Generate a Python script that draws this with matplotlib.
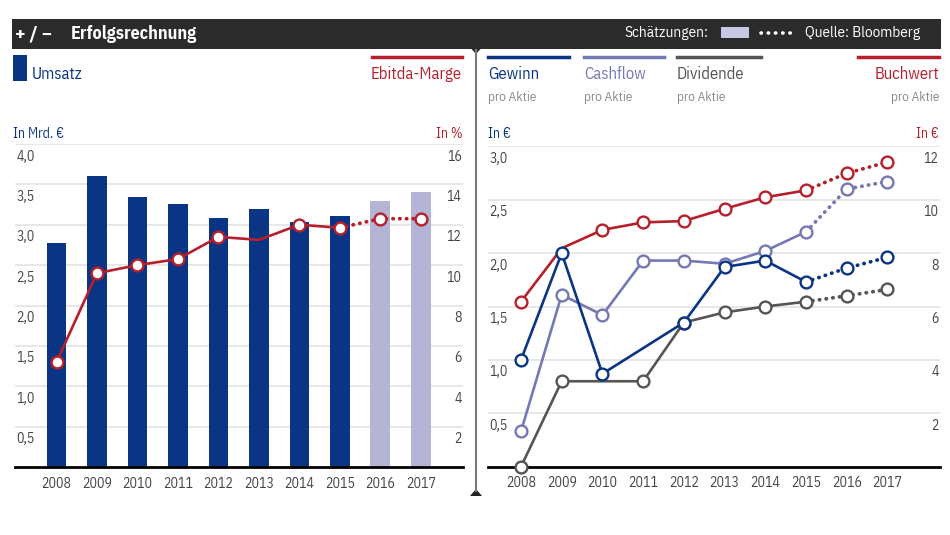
import numpy as np
import matplotlib
matplotlib.use("Agg")
import matplotlib.pyplot as plt
from matplotlib.patches import Rectangle, Polygon
from matplotlib.lines import Line2D

plt.rcParams['font.family'] = ['IBM Plex Sans Condensed', 'DejaVu Sans']

# --- data -------------------------------------------------------------
years = [2008, 2009, 2010, 2011, 2012, 2013, 2014, 2015, 2016, 2017]
umsatz = [2.77, 3.60, 3.34, 3.26, 3.08, 3.19, 3.04, 3.11, 3.30, 3.41]      # Mrd. EUR
ebitda_marge = [5.2, 9.6, 10.0, 10.3, 11.4, 11.25, 12.0, 11.85, 12.3, 12.3]  # %
estimate_from = 2016

gewinn_years = [2008, 2009, 2010, 2012, 2013, 2014, 2015, 2016, 2017]
gewinn = [1.00, 2.00, 0.87, 1.35, 1.87, 1.93, 1.73, 1.86, 1.96]
cashflow_years = years
cashflow = [0.33, 1.61, 1.42, 1.93, 1.93, 1.90, 2.02, 2.20, 2.60, 2.67]
dividende_years = [2008, 2009, 2011, 2012, 2013, 2014, 2015, 2016, 2017]
dividende = [0.0, 0.80, 0.80, 1.35, 1.445, 1.50, 1.545, 1.60, 1.66]
buchwert_years = years
buchwert = [6.18, 8.18, 8.87, 9.15, 9.20, 9.66, 10.09, 10.35, 10.99, 11.41]

left_ticks = [0.5, 1.0, 1.5, 2.0, 2.5, 3.0, 3.5, 4.0]
left_ticks_r = [2, 4, 6, 8, 10, 12, 14, 16]
right_ticks = [0.5, 1.0, 1.5, 2.0, 2.5, 3.0]
right_ticks_r = [2, 4, 6, 8, 10, 12]

NAVY = "#0a3584"
LAV = "#b4b4d4"
RED = "#b5202b"
CASH = "#7479b4"
GREY = "#555555"
TXT = "#444444"
GRID = "#e3e3e6"

W, H = 950, 535
fig = plt.figure(figsize=(W / 100, H / 100), dpi=100)


def rect(l, t, r, b):
    return [l / W, 1 - b / H, (r - l) / W, (b - t) / H]


def fx(x):
    return x / W


def fy(y):
    return 1 - y / H


def fmt(v):
    return f"{v:.1f}".replace(".", ",")


def series(ax, xs, ys, color, no_marker=(), z=3):
    xs = np.array(xs)
    ys = np.array(ys)
    solid = xs < estimate_from
    dotted = xs >= estimate_from - 1
    ax.plot(xs[solid], ys[solid], color=color, lw=1.9, zorder=z,
            solid_capstyle="round", solid_joinstyle="round")
    ax.plot(xs[dotted], ys[dotted], color=color, lw=2.7, zorder=z,
            linestyle=(0, (0.1, 1.7)), dash_capstyle="round")
    mask = np.array([x not in no_marker for x in xs])
    ax.plot(xs[mask], ys[mask], ls="none", marker="o", ms=8.5, mfc="white",
            mec=color, mew=1.7, zorder=z + 0.5, clip_on=False)


def label_ticks(ax, ticks, side, color=TXT):
    for v in ticks:
        if side == "left":
            ax.annotate(fmt(v), xy=(0, v), xycoords=ax.get_yaxis_transform(),
                        xytext=(1, -4), textcoords="offset points",
                        ha="left", va="top", fontsize=10, color=color)
        else:
            ax.annotate(str(v), xy=(1, v), xycoords=ax.get_yaxis_transform(),
                        xytext=(-1, -4), textcoords="offset points",
                        ha="right", va="top", fontsize=10, color=color)


def style(ax, xlim, ylim):
    ax.set_xlim(*xlim)
    ax.set_ylim(*ylim)
    for s in ax.spines.values():
        s.set_visible(False)
    ax.set_yticks([])
    ax.set_xticks(years)
    ax.set_xticklabels([str(y) for y in years], fontsize=10, color=TXT)
    ax.tick_params(axis="x", length=0, pad=7)
    ax.axhline(0, color="black", lw=2, zorder=2.5, clip_on=False)


# --- left panel: Umsatz / Ebitda-Marge --------------------------------
axl = fig.add_axes(rect(15, 144, 463, 467))
style(axl, (2006.975, 2018.04), (0, 4))
for v in left_ticks:
    axl.axhline(v, color=GRID, lw=1.2, zorder=0)
bar_colors = [NAVY if y < estimate_from else LAV for y in years]
axl.bar(years, umsatz, width=0.49, color=bar_colors, zorder=1)
label_ticks(axl, left_ticks, "left")

axl2 = axl.twinx()
axl2.set_ylim(0, 16)
axl2.set_yticks([])
for s in axl2.spines.values():
    s.set_visible(False)
series(axl2, years, ebitda_marge, RED, no_marker=(2013,))
label_ticks(axl2, left_ticks_r, "right")

# --- right panel: per-share figures -----------------------------------
axr2 = fig.add_axes(rect(488, 146.3, 940, 466.7))
axr2.set_xlim(2007.19, 2018.29)
axr2.set_ylim(0, 12)
axr2.set_yticks([])
axr2.set_xticks([])
for s in axr2.spines.values():
    s.set_visible(False)
for v in right_ticks_r:
    axr2.axhline(v, color=GRID, lw=1.2, zorder=0)
series(axr2, buchwert_years, buchwert, RED, no_marker=(2009,))
label_ticks(axr2, right_ticks_r, "right")

axr = fig.add_axes(rect(488, 146.3, 940, 466.7))
axr.patch.set_visible(False)
style(axr, (2007.19, 2018.29), (0, 3))
series(axr, dividende_years, dividende, GREY, z=3)
series(axr, cashflow_years, cashflow, CASH, z=4)
series(axr, gewinn_years, gewinn, NAVY, z=5)
label_ticks(axr, right_ticks, "left")

# --- header -----------------------------------------------------------
fig.add_artist(Rectangle((fx(12), fy(49)), fx(941) - fx(12), fy(19) - fy(49),
                         transform=fig.transFigure, color="#2b2b2b", lw=0))
fig.add_artist(Polygon([(fx(471), fy(48.5)), (fx(481), fy(48.5)), (fx(476), fy(54))],
                       transform=fig.transFigure, color="#2b2b2b", lw=0))
fig.text(fx(15), fy(34), "+\u2009/\u2009\u2212", color="white",
         fontsize=14, fontweight="bold", va="center", ha="left")
fig.text(fx(71), fy(34), "Erfolgsrechnung", color="white",
         fontsize=13, fontweight="bold", va="center", ha="left")
fig.text(fx(708), fy(33), "Schätzungen:", color="white", fontsize=11,
         va="center", ha="right")
fig.add_artist(Rectangle((fx(721), fy(38)), fx(749) - fx(721), fy(27) - fy(38),
                         transform=fig.transFigure, color="#c8c8e4", lw=0))
fig.add_artist(Line2D([fx(761), fx(792)], [fy(33), fy(33)], transform=fig.transFigure,
                      color="white", lw=2.6, linestyle=(0, (0.1, 1.9)),
                      dash_capstyle="round"))
fig.text(fx(805), fy(33), "Quelle: Bloomberg", color="white", fontsize=11,
         va="center", ha="left")

# separator between panels
fig.add_artist(Line2D([fx(476), fx(476)], [fy(50), fy(491)], transform=fig.transFigure,
                      color="#777777", lw=1.5))
fig.add_artist(Polygon([(fx(470), fy(496)), (fx(482), fy(496)), (fx(476), fy(489))],
                       transform=fig.transFigure, color="#222222", lw=0))

# --- legends ----------------------------------------------------------
fig.add_artist(Rectangle((fx(13), fy(81)), fx(27) - fx(13), fy(55) - fy(81),
                         transform=fig.transFigure, color=NAVY, lw=0))
fig.text(fx(32), fy(74), "Umsatz", color=NAVY, fontsize=12, va="center", ha="left")
fig.add_artist(Line2D([fx(372), fx(462)], [fy(57), fy(57)], transform=fig.transFigure,
                      color=RED, lw=2.5))
fig.text(fx(462), fy(74), "Ebitda-Marge", color=RED, fontsize=12, va="center", ha="right")
fig.text(fx(13), fy(134), "In Mrd. €", color=NAVY, fontsize=10, va="center", ha="left")
fig.text(fx(462), fy(134), "In %", color=RED, fontsize=10, va="center", ha="right")

legend_items = [
    ("Gewinn", NAVY, 488, 569, "left"),
    ("Cashflow", CASH, 584, 664, "left"),
    ("Dividende", GREY, 677, 761, "left"),
    ("Buchwert", RED, 858, 939, "right"),
]
for name, col, x0, x1, ha in legend_items:
    fig.add_artist(Line2D([fx(x0), fx(x1)], [fy(57), fy(57)], transform=fig.transFigure,
                          color=col, lw=2.5))
    xt = x0 if ha == "left" else x1
    fig.text(fx(xt), fy(74), name, color=col, fontsize=12, va="center", ha=ha)
    fig.text(fx(xt), fy(97), "pro Aktie", color="#8a8a8a", fontsize=9.5, va="center", ha=ha)
fig.text(fx(488), fy(134), "In €", color=NAVY, fontsize=10, va="center", ha="left")
fig.text(fx(939), fy(134), "In €", color=RED, fontsize=10, va="center", ha="right")

fig.savefig("out.png", dpi=100)
